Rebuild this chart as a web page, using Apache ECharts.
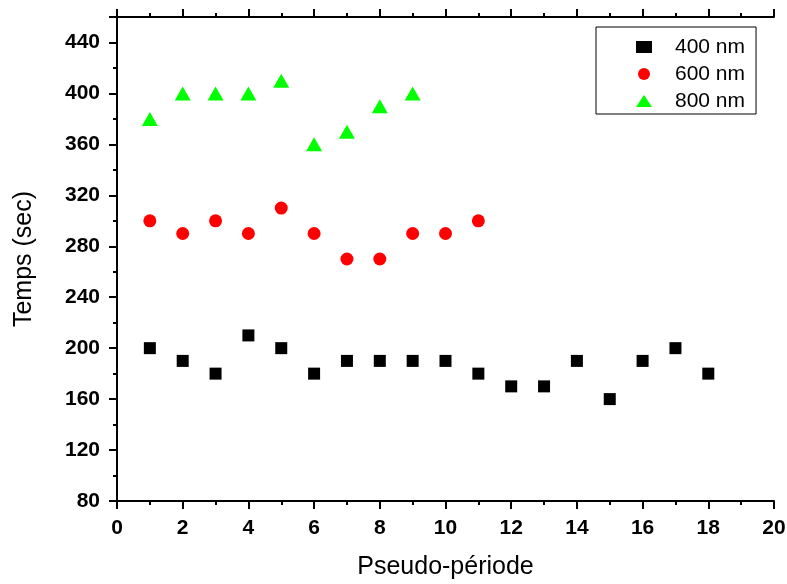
<!DOCTYPE html>
<html>
<head>
<meta charset="utf-8">
<script src="https://cdn.jsdelivr.net/npm/echarts@6/dist/echarts.min.js"></script>
<style>
  html, body { margin: 0; padding: 0; background: #fff; }
  #chart { width: 787px; height: 584px; }
</style>
</head>
<body>
<div id="chart"></div>
<script>
const periods400 = [1, 2, 3, 4, 5, 6, 7, 8, 9, 10, 11, 12, 13, 14, 15, 16, 17, 18]
const temps400 = [200, 190, 180, 210, 200, 180, 190, 190, 190, 190, 180, 170, 170, 190, 160, 190, 200, 180]
const periods600 = [1, 2, 3, 4, 5, 6, 7, 8, 9, 10, 11]
const temps600 = [300, 290, 300, 290, 310, 290, 270, 270, 290, 290, 300]
const periods800 = [1, 2, 3, 4, 5, 6, 7, 8, 9]
const temps800 = [380, 400, 400, 400, 410, 360, 370, 390, 400]

const zip = (xs, ys) => xs.map((x, i) => [x, ys[i]])

const chart = echarts.init(document.getElementById('chart'))

const font = 'Liberation Sans, Arial'
const axisFont = { color: '#000', fontFamily: font, fontWeight: 'bold', fontSize: 21 }
const line = { show: true, lineStyle: { color: '#000', width: 2 } }
const tick = { show: true, length: 8, lineStyle: { color: '#000', width: 2 } }
const minor = { show: true, splitNumber: 2, length: 4, lineStyle: { color: '#000', width: 2 } }

const option = {
  backgroundColor: '#fff',
  animation: false,
  grid: { left: 117, right: 13, top: 17, bottom: 83, outerBoundsMode: 'none' },
  legend: {
    orient: 'vertical',
    left: 596,
    top: 27,
    padding: [9, 11, 2, 40],
    itemGap: 5,
    itemWidth: 16,
    itemHeight: 12,
    borderColor: '#000',
    borderWidth: 1,
    borderRadius: 0,
    textStyle: { color: '#000', fontFamily: font, fontSize: 21, lineHeight: 22, padding: [0, 0, 0, 18] },
    data: [
      { name: '400 nm', icon: 'rect' },
      { name: '600 nm', icon: 'circle' },
      { name: '800 nm', icon: 'triangle' }
    ]
  },
  xAxis: [
    {
      type: 'value', min: 0, max: 20, interval: 2,
      name: 'Pseudo-période', nameLocation: 'middle', nameGap: 54,
      nameTextStyle: { color: '#000', fontFamily: font, fontSize: 25 },
      axisLine: line, axisTick: tick, minorTick: minor,
      splitLine: { show: false },
      axisLabel: { ...axisFont, margin: 17 }
    },
    {
      type: 'value', min: 0, max: 20, interval: 2, position: 'top',
      axisLine: line, axisTick: tick, minorTick: minor,
      splitLine: { show: false },
      axisLabel: { show: false }
    }
  ],
  yAxis: [
    {
      type: 'value', min: 80, max: 460, interval: 40,
      name: 'Temps (sec)', nameLocation: 'middle', nameGap: 80,
      nameTextStyle: { color: '#000', fontFamily: font, fontSize: 25 },
      axisLine: line, axisTick: tick, minorTick: minor,
      splitLine: { show: false },
      axisLabel: { ...axisFont, margin: 17, showMaxLabel: false }
    },
    {
      type: 'value', min: 80, max: 460, interval: 40, position: 'right',
      axisLine: line,
      axisTick: { show: false },
      splitLine: { show: false },
      axisLabel: { show: false }
    }
  ],
  series: [
    {
      name: '400 nm', type: 'scatter', symbol: 'rect', symbolSize: 12,
      itemStyle: { color: '#000', opacity: 1 }, data: zip(periods400, temps400)
    },
    {
      name: '600 nm', type: 'scatter', symbol: 'circle', symbolSize: 13,
      itemStyle: { color: '#ff0000', opacity: 1 }, data: zip(periods600, temps600)
    },
    {
      name: '800 nm', type: 'scatter', symbol: 'triangle', symbolSize: [16, 14],
      itemStyle: { color: '#00ff00', opacity: 1 }, data: zip(periods800, temps800)
    }
  ]
}

chart.setOption(option)
</script>
</body>
</html>
